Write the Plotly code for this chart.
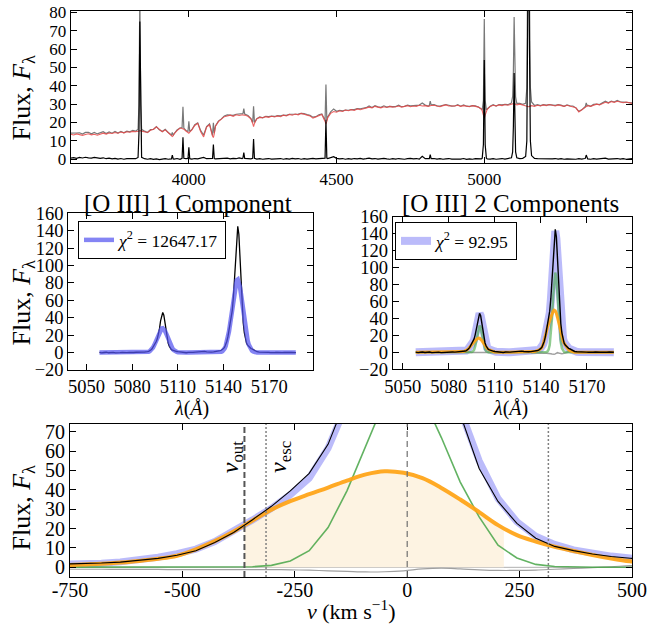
import plotly.graph_objects as go

# ---------------- TOP PANEL DATA (wavelength in A, flux) ----------------
wl_top = [
    3600, 3610, 3620, 3630, 3640, 3650, 3660, 3670, 3680, 3690,
    3700, 3710, 3720, 3730, 3740, 3750, 3760, 3770, 3780, 3790,
    3800, 3810, 3820, 3828, 3831, 3834, 3837, 3840, 3850, 3860, 3870, 3880, 3890,
    3900, 3910, 3920, 3930, 3941, 3944, 3947, 3950, 3960, 3970, 3977, 3980, 3983, 3990, 3997,
    4000, 4003, 4010, 4020, 4030, 4040, 4050, 4060, 4070, 4080, 4083, 4086, 4090,
    4100, 4110, 4120, 4130, 4140, 4150, 4160, 4170, 4180, 4183, 4186, 4189,
    4200, 4210, 4216, 4219, 4222, 4230, 4240, 4250, 4260, 4270, 4280, 4290,
    4300, 4310, 4320, 4330, 4340, 4350, 4360, 4370, 4380, 4390,
    4400, 4410, 4420, 4430, 4440, 4450, 4461, 4464, 4467, 4470, 4480, 4490,
    4500, 4510, 4520, 4530, 4540, 4550, 4560, 4570, 4580, 4590,
    4600, 4610, 4620, 4630, 4640, 4650, 4660, 4670, 4680, 4690,
    4700, 4710, 4720, 4730, 4740, 4750, 4760, 4770, 4780, 4790,
    4800, 4810, 4814, 4817, 4820, 4830, 4840, 4850, 4860, 4870, 4880, 4890,
    4900, 4910, 4920, 4930, 4940, 4950, 4960, 4970, 4980, 4990, 4993, 4997,
    5000, 5003, 5007, 5010, 5020, 5030, 5040, 5050, 5060, 5070, 5080, 5090, 5092, 5096, 5098.5,
    5101, 5103.5, 5106, 5110, 5120, 5130, 5140, 5144, 5147, 5150, 5153, 5156, 5160, 5170, 5180, 5190,
    5200, 5210, 5220, 5230, 5240, 5250, 5260, 5270, 5280, 5290,
    5300, 5310, 5320, 5330, 5340, 5342, 5345, 5348, 5350, 5360, 5370, 5380, 5390,
    5400, 5410, 5420, 5430, 5440, 5450, 5460, 5470, 5480, 5490, 5500,
]
# stellar-continuum model (red)
red_top = [
    13.6, 13.2, 13.8, 13.4, 13.0, 13.5, 13.9, 13.3, 13.6, 13.1,
    13.8, 14.2, 13.7, 14.3, 14.0, 14.6, 14.2, 14.8, 14.4, 15.0,
    14.7, 15.2, 15.0, 15.4, 15.6, 15.8, 15.6, 15.3, 15.0, 14.6, 15.8, 16.4, 17.6,
    16.2, 15.0, 16.0, 14.6, 13.0, 12.4, 12.8, 13.8, 15.6, 17.0, 16.8, 16.6, 16.4, 15.4, 14.8,
    14.2, 14.8, 16.0, 18.4, 19.6, 15.0, 12.2, 17.5, 18.8, 12.6, 11.8, 13.8, 18.0,
    20.5, 22.0, 23.2, 23.6, 24.0, 23.4, 24.2, 23.8, 24.4, 24.2, 24.0, 24.1,
    23.4, 22.0, 19.5, 17.8, 19.5, 22.0, 22.8, 22.6, 23.2, 22.8, 23.4, 23.0,
    23.6, 23.2, 24.0, 23.6, 24.4, 24.0, 24.6, 24.2, 25.0, 24.6,
    24.2, 23.6, 22.4, 23.0, 23.8, 24.4, 20.6, 19.2, 20.6, 22.6, 25.0, 26.0,
    25.6, 26.4, 26.0, 26.8, 26.4, 27.0, 26.6, 27.4, 27.0, 27.6,
    27.8, 28.4, 28.0, 28.8, 28.4, 28.0, 28.6, 28.2, 28.8, 28.4,
    28.6, 29.0, 28.4, 28.8, 29.2, 28.6, 29.0, 28.8, 29.4, 29.0,
    29.2, 28.8, 29.0, 29.2, 29.3, 29.4, 29.0, 28.6, 29.2, 29.6, 29.0, 28.8,
    29.0, 29.4, 28.8, 29.2, 29.0, 28.6, 29.2, 28.8, 28.4, 27.4, 26.4, 24.0,
    22.4, 24.0, 26.4, 27.2, 28.8, 29.4, 29.0, 29.6, 29.2, 29.8, 29.4, 30.0, 30.0, 30.2, 30.3,
    30.4, 30.2, 30.0, 29.6, 30.0, 29.4, 29.0, 28.8, 28.6, 28.6, 28.8, 29.0, 29.2, 28.8, 29.4, 29.0,
    29.6, 29.2, 29.8, 29.4, 29.0, 29.6, 29.2, 28.8, 29.4, 29.0,
    28.8, 28.0, 25.8, 26.8, 28.0, 28.2, 28.4, 28.6, 29.2, 28.8, 29.6, 30.0, 29.6,
    30.4, 31.0, 30.6, 31.4, 31.0, 31.6, 31.2, 30.8, 31.2, 30.6, 30.4,
]
# emission-line residual (black)
black_top = [
    0.6, 0.9, 0.5, 1.0, 0.7, 1.1, 0.8, 0.6, 1.0, 0.7,
    0.5, 0.8, 0.3, 0.6, 0.2, 0.5, 0.1, 0.4, 0.0, 0.3,
    0.2, 0.5, 0.3, 1.0, 14.0, 75.0, 14.0, 1.0, 0.3, 0.0, 0.3, -0.1, 0.2,
    -0.2, 0.1, 0.3, 0.0, 0.2, 2.2, 0.2, 0.1, 0.4, 0.0, 0.5, 12.0, 0.5, 0.3, 0.4,
    6.5, 0.3, 0.1, 0.4, 0.2, 0.6, 1.0, 0.3, 0.5, 0.4, 8.0, 0.4, 0.2,
    0.3, 0.0, 0.4, 0.6, 0.2, 0.5, 0.3, 0.7, 0.4, 0.6, 3.6, 0.5,
    0.4, 0.2, 0.5, 11.0, 0.5, 0.1, 0.3, 0.0, 0.2, 0.4, 0.1, 0.3,
    0.2, 0.4, 0.0, 0.3, 0.1, 0.5, 0.2, 0.4, 0.0, 0.3,
    0.1, 0.3, 0.5, 0.2, 0.4, 0.3, 0.6, 21.5, 0.6, 0.4, 0.8, 1.4,
    0.5, 0.2, 0.4, 0.0, 0.3, 0.1, 0.4, 0.2, 0.5, 0.1,
    0.3, 0.6, 0.2, 0.4, 0.1, 0.3, 0.5, 0.2, 0.0, 0.3,
    0.1, 0.4, 0.2, 0.0, 0.3, 0.5, 0.2, 0.4, 0.1, 1.6,
    0.3, 0.2, 0.3, 2.5, 0.3, 0.4, 0.1, 0.3, 0.0, 0.2, 0.4, 0.1,
    0.0, 0.3, 0.1, 0.4, -0.1, 0.2, 0.0, 0.3, 0.1, 0.2, 0.6, 8.0,
    54.0, 8.0, 0.6, 0.2, 0.1, 0.3, 0.0, 0.2, 0.4, 0.1, 0.3, 0.5, 0.8, 4.0, 18.0,
    47.0, 18.0, 4.0, 0.8, 0.4, 0.5, 1.5, 10.0, 60.0, 145.0, 60.0, 10.0, 2.0, 0.5, 0.3, 0.2,
    0.1, 0.3, 0.0, 0.2, 0.4, 0.1, 0.3, 0.0, 0.2, 0.1,
    0.2, 0.0, 0.3, 0.1, 0.4, 0.5, 2.3, 0.5, 0.2, 0.0, 0.3, 0.1, 0.2,
    0.3, 0.6, 0.1, 0.3, 0.2, 0.4, 0.1, 0.3, 0.0, 0.2, 0.3,
]
assert len(wl_top) == len(red_top) == len(black_top)

# ---------------- [O III] LINE PROFILES on a velocity grid (km/s) ----------------
V = [-890, -848, -806, -764, -722, -680, -638, -596, -554, -512, -470, -428, -386,
     -344, -302, -260, -218, -176, -134, -92, -50, -8, 34, 76, 118, 160, 202, 244,
     286, 328, 370, 412, 454, 496, 538, 580, 622, 664]

black_5007 = [0.9, 1.1, 1.3, 1.5, 1.8, 2.2, 2.7, 3.5, 4.6, 6.2, 8.6, 12.8, 18.0, 24.6, 31.5,
              39.5, 48.5, 63.5, 86.0, 114.0, 137.0, 145.0, 136.0, 109.0, 79.0, 51.0, 34.0,
              22.7, 15.0, 10.8, 8.6, 6.9, 5.6, 4.7, 4.2, 3.4, 2.4, 1.6]
blue2_5007 = [0.8, 0.95, 1.1, 1.3, 1.6, 2.1, 2.8, 3.8, 5.2, 7.0, 9.4, 13.3, 18.6, 24.5, 30.5,
              37.5, 46.0, 61.5, 84.5, 112.0, 134.0, 143.0, 134.0, 108.0, 80.0, 55.0, 35.5,
              23.5, 16.0, 11.8, 9.0, 7.2, 5.8, 4.8, 4.1, 3.2, 2.2, 1.4]
green_5007 = [0, 0, 0, 0, 0, 0, 0, 0, 0, 0, 0, 0, 0.1, 0.3, 1.0, 3.3, 8.6, 20.5, 39.5, 64.0,
              86.0, 94.0, 88.0, 67.0, 44.0, 26.0, 11.4, 4.8, 1.5, 0.4, 0.1, 0, 0, 0, 0, 0, 0, 0]
orange_5007 = [0.5, 0.65, 0.85, 1.1, 1.5, 1.9, 2.5, 3.3, 4.4, 6.0, 9.3, 13.5, 18.5, 24.2, 29.8,
               34.2, 37.8, 41.2, 44.8, 48.0, 49.6, 48.8, 46.0, 41.0, 35.0, 28.5, 21.8, 16.6,
               13.3, 10.6, 8.4, 6.4, 4.6, 3.1, 2.1, 1.4, 0.9, 0.6]
resid_5007 = [-0.9, -1.0, -1.0, -1.0, -1.0, -1.0, -1.1, -1.1, -1.1, -1.2, -1.2, -1.2, -1.2,
              -1.2, -1.2, -1.3, -1.5, -1.8, -2.1, -2.4, -2.3, -1.8, -0.8, -0.4, -0.8, -1.3,
              -1.6, -1.6, -1.4, -1.0, -0.6, -0.2, 0.3, 0.9, 1.3, 1.0, 0.6, 0.2]
blue1_5007 = [0.0, 0.02, 0.05, 0.1, 0.24, 0.47, 0.89, 1.6, 2.8, 4.7, 7.5, 11.6, 17.1, 24.1,
              32.6, 42.3, 52.6, 62.9, 71.9, 79.0, 83.1, 84.0, 81.1, 75.3, 66.9, 57.1, 46.7,
              36.7, 27.6, 19.9, 13.7, 9.1, 5.8, 3.5, 2.1, 1.2, 0.6, 0.3]

black_4959 = [0.3, 0.4, 0.3, 0.5, 0.6, 0.6, 0.9, 1.1, 1.5, 2.0, 2.9, 4.1, 5.9, 8.0, 10.2, 12.8,
              15.8, 20.6, 27.5, 36.5, 43.5, 46.0, 43.0, 35.0, 25.5, 16.5, 11.0, 7.4, 5.0, 3.4,
              2.8, 2.2, 1.6, 1.4, 1.2, 1.0, 0.8, 0.6]
blue2_4959 = [0.25, 0.3, 0.35, 0.4, 0.5, 0.7, 0.9, 1.2, 1.7, 2.2, 3.0, 4.3, 6.0, 7.8, 9.8, 12.0,
              14.7, 19.7, 27.0, 35.8, 43.0, 46.0, 43.0, 35.0, 25.6, 17.6, 11.4, 7.5, 5.1, 3.8,
              2.9, 2.3, 1.9, 1.5, 1.3, 1.0, 0.7, 0.45]
green_4959 = [0, 0, 0, 0, 0, 0, 0, 0, 0, 0, 0, 0, 0.0, 0.1, 0.3, 1.1, 2.9, 6.9, 13.2, 21.4,
              28.8, 31.5, 29.5, 22.4, 14.7, 8.7, 3.8, 1.6, 0.5, 0.1, 0.0, 0, 0, 0, 0, 0, 0, 0]
orange_4959 = [0.17, 0.22, 0.29, 0.37, 0.5, 0.65, 0.85, 1.1, 1.5, 2.0, 3.2, 4.6, 6.3, 8.2, 10.1,
               11.6, 12.9, 14.0, 15.2, 16.3, 16.9, 16.6, 15.6, 13.9, 11.9, 9.7, 7.4, 5.6, 4.5,
               3.6, 2.9, 2.2, 1.6, 1.05, 0.7, 0.48, 0.3, 0.2]
resid_4959 = [-0.3, -0.3, -0.3, -0.3, -0.3, -0.3, -0.3, -0.3, -0.3, -0.3, -0.3, -0.3, -0.3,
              -0.3, -0.3, -0.4, -0.5, -0.6, -0.8, -0.9, -0.8, -0.6, -0.3, -0.2, -0.3, -0.5,
              -0.6, -0.5, -0.4, -0.3, -0.3, -0.3, -0.3, -0.3, -0.3, -0.3, -0.3, -0.3]
blue1_4959 = [0.0, 0.0, 0.02, 0.03, 0.08, 0.16, 0.3, 0.53, 0.93, 1.57, 2.5, 3.9, 5.7, 8.0, 10.9,
              14.1, 17.5, 21.0, 24.0, 26.3, 27.7, 28.0, 27.0, 25.1, 22.3, 19.0, 15.6, 12.2,
              9.2, 6.6, 4.6, 3.0, 1.9, 1.2, 0.7, 0.4, 0.2, 0.1]

# line-free stretches of the [O III] window
flat1_wl = [5058.5, 5060.0, 5061.5, 5063.0, 5064.5, 5066.0, 5067.5, 5069.0, 5070.5, 5072.0,
            5073.5, 5075.0, 5076.5, 5078.0, 5079.5, 5081.0, 5082.5, 5084.0]
flat1_black = [0.2, -0.3, 0.1, 0.4, -0.2, 0.0, 0.3, -0.4, 0.1, -0.1, 0.2, -0.3, 0.0, 0.3, -0.2,
               0.1, 0.4, 0.2]
flat2_wl = [5112.5, 5114.0, 5115.5, 5117.0, 5118.5, 5120.0, 5121.5, 5123.0, 5124.5, 5126.0,
            5127.5, 5129.0, 5130.5, 5132.0, 5133.5]
flat2_black = [0.4, 0.1, -0.2, 0.3, 0.0, 0.2, 0.5, 0.8, 1.2, 1.6, 1.4, 0.9, 0.5, 0.6, 0.8]
flat2_blue2 = [0.0, 0.0, 0.0, 0.0, 0.0, 0.0, 0.2, 0.5, 0.9, 1.2, 1.0, 0.6, 0.3, 0.4, 0.6]
flat3_wl = [5162.0, 5163.5, 5165.0, 5166.5, 5168.0, 5169.5, 5171.0, 5172.5, 5174.0, 5175.5,
            5177.0, 5178.5, 5180.0, 5181.5, 5183.0, 5184.5, 5186.0, 5187.5]
flat3_black = [1.0, 0.6, 0.3, 0.1, -0.2, 0.2, 0.0, -0.3, 0.1, 0.3, -0.1, 0.0, 0.2, -0.2, 0.1,
               0.3, -0.1, 0.0]
flat3_blue2 = [0.9, 0.5, 0.3, 0.15, 0.05, 0, 0, 0, 0, 0, 0, 0, 0, 0, 0, 0, 0, 0]

# observed line centres (A) at v = 0
lam0_4959 = 5100.2
lam0_5007 = 5149.5
C_KMS = 299792.458

# fill region of the broad component (v_out .. edge)
fill_v = [-362, -344, -302, -260, -218, -176, -134, -92, -50, -8, 34, 76, 118, 160, 202, 215]
fill_top = [21.9, 24.2, 29.8, 34.2, 37.8, 41.2, 44.8, 48.0, 49.6, 48.8, 46.0, 41.0, 35.0,
            28.5, 21.8, 20.2]
v_out = -362
v_esc = 314

# ---------------- derived series ----------------
gray_top = [r + b for r, b in zip(red_top, black_top)]
lam4959 = [lam0_4959 * (1 + v / C_KMS) for v in V]
lam5007 = [lam0_5007 * (1 + v / C_KMS) for v in V]
z1, z2, z3 = [0.0] * len(flat1_wl), [0.0] * len(flat2_wl), [0.0] * len(flat3_wl)
mid_wl = flat1_wl + lam4959 + flat2_wl + lam5007 + flat3_wl
mid_black = flat1_black + black_4959 + flat2_black + black_5007 + flat3_black
mid_blue1 = z1 + blue1_4959 + z2 + blue1_5007 + z3
mid_blue2 = z1 + blue2_4959 + flat2_blue2 + blue2_5007 + flat3_blue2
mid_green = z1 + green_4959 + z2 + green_5007 + z3
mid_orange = z1 + orange_4959 + z2 + orange_5007 + z3
mid_resid = (flat1_black + resid_4959 + [b - m for b, m in zip(flat2_black, flat2_blue2)]
             + resid_5007 + [b - m for b, m in zip(flat3_black, flat3_blue2)])

# ---------------- figure ----------------
W, H = 658, 626
FONT = "Liberation Serif, Times New Roman, DejaVu Serif, serif"


def px(x):
    return x / W


def py(y):
    return 1 - y / H


BLUE1 = "rgba(85,85,240,0.72)"
BLUE2 = "rgba(120,120,245,0.5)"
GREEN_MID = "rgba(70,170,70,0.6)"
GREEN_BOT = "rgba(70,165,70,0.85)"
ORANGE = "rgba(255,163,20,0.92)"
GRAYRES = "#a0a0a0"

fig = go.Figure()

# top panel
fig.add_trace(go.Scatter(x=wl_top, y=gray_top, mode="lines", line=dict(color="#787878", width=1.2),
                         xaxis="x", yaxis="y", showlegend=False))
fig.add_trace(go.Scatter(x=wl_top, y=red_top, mode="lines", line=dict(color="rgba(232,72,72,0.85)", width=1.1),
                         xaxis="x", yaxis="y", showlegend=False))
fig.add_trace(go.Scatter(x=wl_top, y=black_top, mode="lines", line=dict(color="black", width=1.2),
                         xaxis="x", yaxis="y", showlegend=False))

# middle-left: one component
fig.add_trace(go.Scatter(x=mid_wl, y=mid_black, mode="lines", line=dict(color="black", width=1.3),
                         xaxis="x2", yaxis="y2", showlegend=False))
fig.add_trace(go.Scatter(x=mid_wl, y=mid_blue1, mode="lines", line=dict(color=BLUE1, width=4.5),
                         xaxis="x2", yaxis="y2", showlegend=True, legend="legend",
                         name="<i>χ</i><sup>2</sup> = 12647.17"))

# middle-right: two components
fig.add_trace(go.Scatter(x=mid_wl, y=mid_blue2, mode="lines", line=dict(color=BLUE2, width=8),
                         xaxis="x3", yaxis="y3", showlegend=True, legend="legend2",
                         name="<i>χ</i><sup>2</sup> = 92.95"))
fig.add_trace(go.Scatter(x=mid_wl, y=mid_resid, mode="lines", line=dict(color=GRAYRES, width=1.5),
                         xaxis="x3", yaxis="y3", showlegend=False))
fig.add_trace(go.Scatter(x=mid_wl, y=mid_green, mode="lines", line=dict(color=GREEN_MID, width=2.5),
                         xaxis="x3", yaxis="y3", showlegend=False))
fig.add_trace(go.Scatter(x=mid_wl, y=mid_orange, mode="lines", line=dict(color=ORANGE, width=3),
                         xaxis="x3", yaxis="y3", showlegend=False))
fig.add_trace(go.Scatter(x=mid_wl, y=mid_black, mode="lines", line=dict(color="black", width=1.4),
                         xaxis="x3", yaxis="y3", showlegend=False))

# bottom: velocity view of [O III] 5007
fig.add_trace(go.Scatter(x=fill_v, y=fill_top, mode="lines", line=dict(width=0, shape="spline"),
                         fill="tozeroy", fillcolor="#fdf3e2", xaxis="x4", yaxis="y4", showlegend=False))
fig.add_trace(go.Scatter(x=V, y=blue2_5007, mode="lines", line=dict(color=BLUE2, width=7),
                         xaxis="x4", yaxis="y4", showlegend=False))
fig.add_trace(go.Scatter(x=V, y=resid_5007, mode="lines", line=dict(color=GRAYRES, width=1.2, shape="spline"),
                         xaxis="x4", yaxis="y4", showlegend=False))
fig.add_trace(go.Scatter(x=V, y=green_5007, mode="lines", line=dict(color=GREEN_BOT, width=1.6),
                         xaxis="x4", yaxis="y4", showlegend=False))
fig.add_trace(go.Scatter(x=V, y=orange_5007, mode="lines", line=dict(color=ORANGE, width=4, shape="spline"),
                         xaxis="x4", yaxis="y4", showlegend=False))
fig.add_trace(go.Scatter(x=V, y=black_5007, mode="lines", line=dict(color="black", width=1.1),
                         xaxis="x4", yaxis="y4", showlegend=False))


def ax(size, **kw):
    d = dict(showline=True, linecolor="black", linewidth=1, mirror="ticks", ticks="inside",
             ticklen=6, tickwidth=1, tickcolor="black", showgrid=False, zeroline=False,
             automargin=False, tickfont=dict(family=FONT, size=size, color="black"))
    d.update(kw)
    return d


fig.update_layout(
    template="none",
    font=dict(family=FONT, color="black"),
    width=W, height=H, autosize=False,
    margin=dict(l=0, r=0, t=0, b=0, pad=0, autoexpand=False),
    paper_bgcolor="white", plot_bgcolor="white",
    xaxis=ax(17, domain=[px(70.7), px(632)], range=[3600, 5500], tickvals=[4000, 4500, 5000], anchor="y"),
    yaxis=ax(17, domain=[py(163.3), py(10.7)], range=[-2.2, 80.9],
             tickvals=[0, 10, 20, 30, 40, 50, 60, 70, 80], anchor="x"),
    xaxis2=ax(18.5, domain=[px(68.3), px(313.3)], range=[5038, 5199],
              tickvals=[5050, 5080, 5110, 5140, 5170], anchor="y2"),
    yaxis2=ax(18.5, domain=[py(370), py(213.3)], range=[-20, 160],
              tickvals=[-20, 0, 20, 40, 60, 80, 100, 120, 140, 160], anchor="x2"),
    xaxis3=ax(18.5, domain=[px(392.7), px(631.5)], range=[5043.5, 5199],
              tickvals=[5050, 5080, 5110, 5140, 5170], anchor="y3"),
    yaxis3=ax(18.5, domain=[py(369.3), py(216.5)], range=[-20, 160],
              tickvals=[-20, 0, 20, 40, 60, 80, 100, 120, 140, 160], anchor="x3"),
    xaxis4=ax(20, domain=[px(70), px(632)], range=[-750, 500],
              tickvals=[-750, -500, -250, 0, 250, 500],
              ticktext=["-750", "-500", "-250", "0", "250", "500"], anchor="y4",
              ticklabelstandoff=-5),
    yaxis4=ax(20, domain=[py(577), py(424)], range=[-5, 74],
              tickvals=[0, 10, 20, 30, 40, 50, 60, 70], anchor="x4"),
    legend=dict(x=px(78), y=py(221), xanchor="left", yanchor="top", bordercolor="black",
                borderwidth=1, bgcolor="white", font=dict(family=FONT, size=17.5, color="black")),
    legend2=dict(x=px(395), y=py(222), xanchor="left", yanchor="top", bordercolor="black",
                 borderwidth=1, bgcolor="white", font=dict(family=FONT, size=17.5, color="black")),
)

ann = []


def label(x, y, text, size, angle=0, xref="paper", yref="paper"):
    if xref == "paper":
        x = px(x)
    if yref == "paper":
        y = py(y)
    ann.append(dict(x=x, y=y, xref=xref, yref=yref, text=text, textangle=angle,
                    xanchor="center", yanchor="middle", showarrow=False,
                    font=dict(family=FONT, size=size, color="black")))


ylab = "Flux, <i>F</i><sub>λ</sub>"
for yy in (98, 303, 508):
    label(22.5, yy, ylab, 26, -90)
label(188, 203, "[O III] 1 Component", 25)
label(511, 203, "[O III] 2 Components", 25)
for xx in (191, 510):
    label(xx, 408, "<i>λ</i>(<i>Å</i>)", 20)
label(351, 610, "<i>v</i> (km s<sup>−1</sup>)", 22)
label(-389, 57, "<i>v</i><sub>out</sub>", 24, -90, xref="x4", yref="y4")
label(-283, 57, "<i>v</i><sub>esc</sub>", 24, -90, xref="x4", yref="y4")
fig.update_layout(annotations=ann)

shapes = [
    dict(type="line", xref="x4", yref="y4", x0=-750, x1=500, y0=0, y1=0,
         line=dict(color="#b0b0b0", width=1), layer="below"),
    dict(type="line", xref="x4", yref="y4 domain", x0=v_out, x1=v_out, y0=0, y1=1,
         line=dict(color="#555555", width=2, dash="6px,3px")),
    dict(type="line", xref="x4", yref="y4 domain", x0=-v_esc, x1=-v_esc, y0=0, y1=1,
         line=dict(color="#808080", width=1.5, dash="2px,2px")),
    dict(type="line", xref="x4", yref="y4 domain", x0=0, x1=0, y0=0, y1=1,
         line=dict(color="#707070", width=1.2, dash="6px,4px")),
    dict(type="line", xref="x4", yref="y4 domain", x0=v_esc, x1=v_esc, y0=0, y1=1,
         line=dict(color="#808080", width=1.5, dash="2px,2px")),
]
fig.update_layout(shapes=shapes)

fig.write_html("out.html", config={"displayModeBar": False},
               post_script="document.body.style.margin='0';")
